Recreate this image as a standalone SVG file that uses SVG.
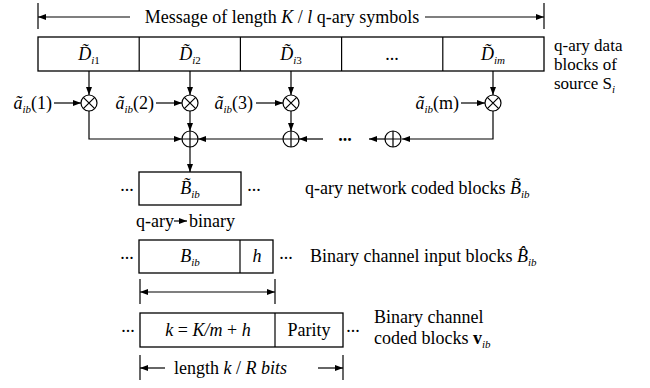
<svg xmlns="http://www.w3.org/2000/svg" width="650" height="388" viewBox="0 0 650 388" font-family="Liberation Serif, serif">
<defs>
<marker id="ah" markerWidth="8" markerHeight="6" refX="8" refY="3" orient="auto" markerUnits="userSpaceOnUse"><path d="M0,0 L8,3 L0,6 z" fill="#000"/></marker>
<marker id="ahs" markerWidth="8" markerHeight="6" refX="0" refY="3" orient="auto" markerUnits="userSpaceOnUse"><path d="M8,0 L0,3 L8,6 z" fill="#000"/></marker>
</defs>
<style>
text{font-family:'Liberation Serif',serif;font-size:18px;fill:#000}
.it{font-style:italic}
.sub{font-size:11px;font-style:italic}
.subr{font-size:11px}
.lbl{font-size:17px}
.box{fill:#fff;stroke:#000;stroke-width:1.3}
.ln{fill:none;stroke:#000;stroke-width:1.2}
.arr{fill:none;stroke:#000;stroke-width:1.2;marker-end:url(#ah)}
.op{fill:#fff;stroke:#000;stroke-width:1.2}
.dots{font-weight:bold}
</style>
<g id="top-dimension">
<line class="ln" x1="38" y1="3" x2="38" y2="29"/>
<line class="ln" x1="544" y1="3" x2="544" y2="29"/>
<line class="arr" x1="130" y1="17" x2="38" y2="17"/>
<line class="arr" x1="425" y1="17" x2="544" y2="17"/>
<text x="282" y="23" text-anchor="middle">Message of length <tspan class="it">K</tspan> / <tspan class="it">l</tspan> q-ary symbols</text>
</g>

<g id="data-blocks">
<rect class="box" x="38" y="37" width="506" height="34"/>
<line class="ln" x1="139.2" y1="37" x2="139.2" y2="71"/>
<line class="ln" x1="240.4" y1="37" x2="240.4" y2="71"/>
<line class="ln" x1="341.6" y1="37" x2="341.6" y2="71"/>
<line class="ln" x1="442.8" y1="37" x2="442.8" y2="71"/>
<text x="89" y="60" text-anchor="middle"><tspan class="it">D̃</tspan><tspan class="sub" dy="4">i</tspan><tspan class="subr">1</tspan></text>
<text x="190" y="60" text-anchor="middle"><tspan class="it">D̃</tspan><tspan class="sub" dy="4">i</tspan><tspan class="subr">2</tspan></text>
<text x="291" y="60" text-anchor="middle"><tspan class="it">D̃</tspan><tspan class="sub" dy="4">i</tspan><tspan class="subr">3</tspan></text>
<text x="392" y="60" text-anchor="middle">...</text>
<text x="493" y="60" text-anchor="middle"><tspan class="it">D̃</tspan><tspan class="sub" dy="4">im</tspan></text>
</g>

<g id="data-label">
<text class="lbl" x="554" y="51">q-ary data</text>
<text class="lbl" x="554" y="70">blocks of</text>
<text class="lbl" x="554" y="89">source S<tspan class="sub" dy="4">i</tspan></text>
</g>

<g id="coef-labels">
<text x="52" y="109" text-anchor="end"><tspan class="it">ã</tspan><tspan class="sub" dy="4">ib</tspan><tspan dy="-4">(1)</tspan></text>
<text x="154" y="109" text-anchor="end"><tspan class="it">ã</tspan><tspan class="sub" dy="4">ib</tspan><tspan dy="-4">(2)</tspan></text>
<text x="253" y="109" text-anchor="end"><tspan class="it">ã</tspan><tspan class="sub" dy="4">ib</tspan><tspan dy="-4">(3)</tspan></text>
<text x="459" y="109" text-anchor="end"><tspan class="it">ã</tspan><tspan class="sub" dy="4">ib</tspan><tspan dy="-4">(m)</tspan></text>
</g>

<g id="connectors">
<line class="arr" x1="89" y1="71" x2="89" y2="95"/>
<line class="arr" x1="190" y1="71" x2="190" y2="95"/>
<line class="arr" x1="291" y1="71" x2="291" y2="95"/>
<line class="arr" x1="493" y1="71" x2="493" y2="95"/>
<line class="arr" x1="54" y1="103" x2="81" y2="103"/>
<line class="arr" x1="156" y1="103" x2="182" y2="103"/>
<line class="arr" x1="256" y1="103" x2="283" y2="103"/>
<line class="arr" x1="461" y1="103" x2="485" y2="103"/>
<path class="arr" d="M89,111 V139 H182"/>
<line class="arr" x1="190" y1="111" x2="190" y2="131"/>
<line class="arr" x1="291" y1="111" x2="291" y2="131"/>
<line class="arr" x1="283" y1="139" x2="198" y2="139"/>
<line class="arr" x1="323" y1="139" x2="299" y2="139"/>
<line class="arr" x1="385" y1="139" x2="369" y2="139"/>
<path class="arr" d="M493,111 V139 H402"/>
<line class="arr" x1="190" y1="147" x2="190" y2="172"/>
<line class="arr" x1="174" y1="221" x2="187" y2="221"/>
</g>

<g id="mult-1"><circle class="op" cx="89" cy="103" r="8"/><path class="ln" d="M83.3,97.3 L94.7,108.7 M94.7,97.3 L83.3,108.7"/></g>
<g id="mult-2"><circle class="op" cx="190" cy="103" r="8"/><path class="ln" d="M184.3,97.3 L195.7,108.7 M195.7,97.3 L184.3,108.7"/></g>
<g id="mult-3"><circle class="op" cx="291" cy="103" r="8"/><path class="ln" d="M285.3,97.3 L296.7,108.7 M296.7,97.3 L285.3,108.7"/></g>
<g id="mult-m"><circle class="op" cx="493" cy="103" r="8"/><path class="ln" d="M487.3,97.3 L498.7,108.7 M498.7,97.3 L487.3,108.7"/></g>

<g id="add-2"><circle class="op" cx="190" cy="139" r="8"/><path class="ln" d="M182,139 H198 M190,131 V147"/></g>
<g id="add-3"><circle class="op" cx="291" cy="139" r="8"/><path class="ln" d="M283,139 H299 M291,131 V147"/></g>
<g id="add-m"><circle class="op" cx="393" cy="139" r="8"/><path class="ln" d="M385,139 H401 M393,131 V147"/></g>
<text class="dots" x="345" y="141" text-anchor="middle">...</text>

<g id="network-coded-block">
<rect class="box" x="139" y="172" width="102" height="33"/>
<text x="190" y="194" text-anchor="middle"><tspan class="it">B̃</tspan><tspan class="sub" dy="4">ib</tspan></text>
<text x="127" y="191" text-anchor="middle">...</text>
<text x="254" y="191" text-anchor="middle">...</text>
<text x="305" y="194">q-ary network coded blocks <tspan class="it">B̃</tspan><tspan class="sub" dy="4">ib</tspan></text>
</g>

<g id="conversion">
<text x="136" y="227">q-ary</text>
<text x="189" y="227">binary</text>
</g>

<g id="channel-input-block">
<rect class="box" x="139" y="240" width="134" height="33"/>
<line class="ln" x1="240" y1="240" x2="240" y2="273"/>
<text x="190" y="262" text-anchor="middle"><tspan class="it">B</tspan><tspan class="sub" dy="4">ib</tspan></text>
<text x="257" y="262" text-anchor="middle" class="it">h</text>
<text x="127" y="259" text-anchor="middle">...</text>
<text x="286" y="259" text-anchor="middle">...</text>
<text x="310" y="262">Binary channel input blocks <tspan class="it">B̂</tspan><tspan class="sub" dy="4">ib</tspan></text>
</g>

<g id="mid-dimension">
<line class="ln" x1="140" y1="279" x2="140" y2="304"/>
<line class="ln" x1="275" y1="279" x2="275" y2="304"/>
<line class="arr" x1="140" y1="292" x2="275" y2="292" marker-start="url(#ahs)"/>
</g>

<g id="channel-coded-block">
<rect class="box" x="140" y="313" width="203" height="34"/>
<line class="ln" x1="275" y1="313" x2="275" y2="347"/>
<text x="208" y="336" text-anchor="middle"><tspan class="it">k</tspan> = <tspan class="it">K/m</tspan> + <tspan class="it">h</tspan></text>
<text x="309" y="336" text-anchor="middle">Parity</text>
<text x="128" y="332" text-anchor="middle">...</text>
<text x="353" y="332" text-anchor="middle">...</text>
<text x="374" y="323">Binary channel</text>
<text x="374" y="344">coded blocks <tspan font-weight="bold">v</tspan><tspan class="sub" dy="4">ib</tspan></text>
</g>

<g id="bottom-dimension">
<line class="ln" x1="140" y1="355" x2="140" y2="380"/>
<line class="ln" x1="343" y1="355" x2="343" y2="380"/>
<line class="arr" x1="165" y1="368" x2="140" y2="368"/>
<line class="arr" x1="318" y1="368" x2="343" y2="368"/>
<text x="174" y="374">length <tspan class="it">k</tspan> / <tspan class="it">R bits</tspan></text>
</g>
</svg>
